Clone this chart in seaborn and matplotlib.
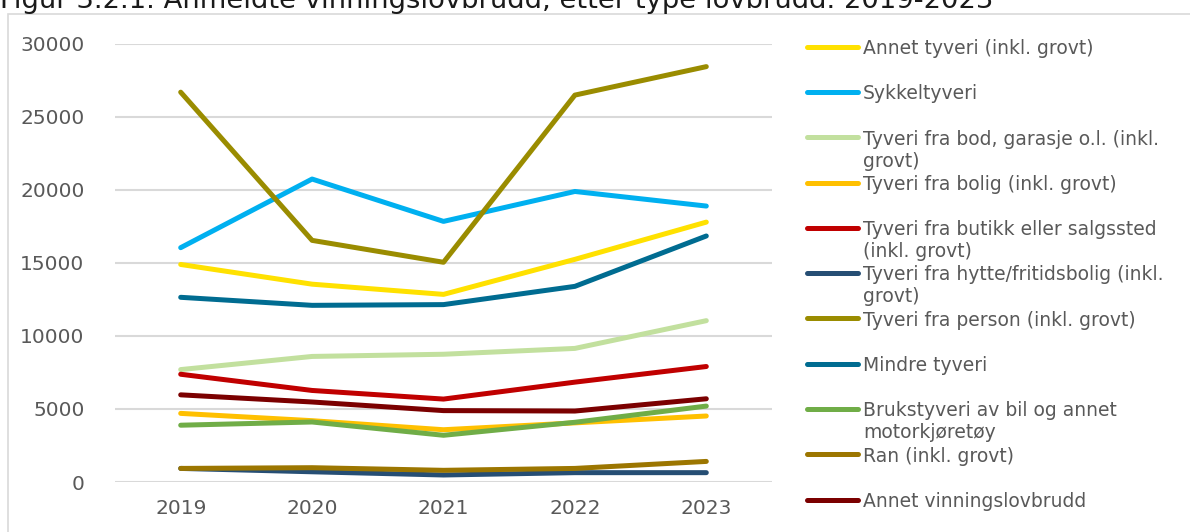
import numpy as np
import pandas as pd
import seaborn as sns
import matplotlib.pyplot as plt
from matplotlib.lines import Line2D
from matplotlib.patches import Rectangle

# --- data ---
years = ["2019", "2020", "2021", "2022", "2023"]

series_names = [
    "Annet tyveri (inkl. grovt)",
    "Sykkeltyveri",
    "Tyveri fra bod, garasje o.l. (inkl.\ngrovt)",
    "Tyveri fra bolig (inkl. grovt)",
    "Tyveri fra butikk eller salgssted\n(inkl. grovt)",
    "Tyveri fra hytte/fritidsbolig (inkl.\ngrovt)",
    "Tyveri fra person (inkl. grovt)",
    "Mindre tyveri",
    "Brukstyveri av bil og annet\nmotorkjøretøy",
    "Ran (inkl. grovt)",
    "Annet vinningslovbrudd",
]

annet_tyveri = [14900, 13550, 12850, 15250, 17800]
sykkeltyveri = [16050, 20750, 17850, 19900, 18900]
tyveri_bod = [7700, 8600, 8750, 9150, 11050]
tyveri_bolig = [4700, 4200, 3580, 4050, 4520]
tyveri_butikk = [7380, 6270, 5680, 6840, 7910]
tyveri_hytte = [930, 700, 480, 640, 640]
tyveri_person = [26700, 16550, 15050, 26500, 28450]
mindre_tyveri = [12650, 12100, 12150, 13400, 16850]
brukstyveri = [3890, 4110, 3200, 4090, 5200]
ran = [930, 980, 800, 930, 1410]
annet_vinning = [5970, 5480, 4890, 4860, 5700]

colors = ["#FFE100", "#00B0F0", "#C2E09E", "#FFC000", "#C00000", "#264E74",
          "#9A8C00", "#006C91", "#70AD47", "#9C7600", "#7B0000"]

values = [annet_tyveri, sykkeltyveri, tyveri_bod, tyveri_bolig, tyveri_butikk,
          tyveri_hytte, tyveri_person, mindre_tyveri, brukstyveri, ran, annet_vinning]

rows = []
for name, vals in zip(series_names, values):
    for yr, v in zip(years, vals):
        rows.append({"year": yr, "value": v, "series": name})
df = pd.DataFrame(rows)
palette = dict(zip(series_names, colors))

sns.set_style("white")
plt.rcParams["font.family"] = ["DejaVu Sans"]

W, H = 1190, 532
fig = plt.figure(figsize=(W / 100, H / 100), dpi=100)

# light frame around chart area
fig.add_artist(Rectangle((8 / W, -0.1), 2, (1 - 14 / H) + 0.1, transform=fig.transFigure,
                         fill=False, edgecolor="#D9D9D9", linewidth=1.2))

ax = fig.add_axes([115 / W, 1 - 482 / H, (772 - 115) / W, (482 - 44) / H])

sns.lineplot(data=df, x="year", y="value", hue="series", hue_order=series_names,
             palette=palette, linewidth=3.6, ax=ax, legend=False, sort=False)
for ln in ax.get_lines():
    ln.set_solid_capstyle("round")
    ln.set_solid_joinstyle("round")

ax.set_xlim(-0.5, 4.5)
ax.set_ylim(0, 30000)
ax.set_yticks(np.arange(0, 30001, 5000))
ax.yaxis.grid(True, color="#D9D9D9", linewidth=1.5)
ax.set_axisbelow(True)
for s in ax.spines.values():
    s.set_visible(False)
ax.tick_params(axis="both", length=0, labelsize=14.5, labelcolor="#595959")
ax.tick_params(axis="y", pad=22)
ax.tick_params(axis="x", pad=12)
ax.set_xlabel("")
ax.set_ylabel("")

# legend drawn by hand so the handle sits on the first line of wrapped labels
y0, step = 46.7, 45.3
for i, (name, c) in enumerate(zip(series_names, colors)):
    yp = y0 + i * step
    yf = 1 - yp / H
    fig.add_artist(Line2D([807 / W, 858 / W], [yf, yf], transform=fig.transFigure,
                          color=c, linewidth=3.6, solid_capstyle="round"))
    fig.text(863 / W, 1 - (yp - 7.7) / H, name, ha="left", va="top",
             fontsize=13.5, color="#595959", linespacing=1.2)

# title, cut off at the top edge as in the reference
fig.text(0.0, 1 - 8 / H, "Figur 3.2.1. Anmeldte vinningslovbrudd, etter type lovbrudd. 2019-2023",
         ha="left", va="baseline", fontsize=19.7, color="#1A1A1A")

fig.savefig("out.png", dpi=100)
